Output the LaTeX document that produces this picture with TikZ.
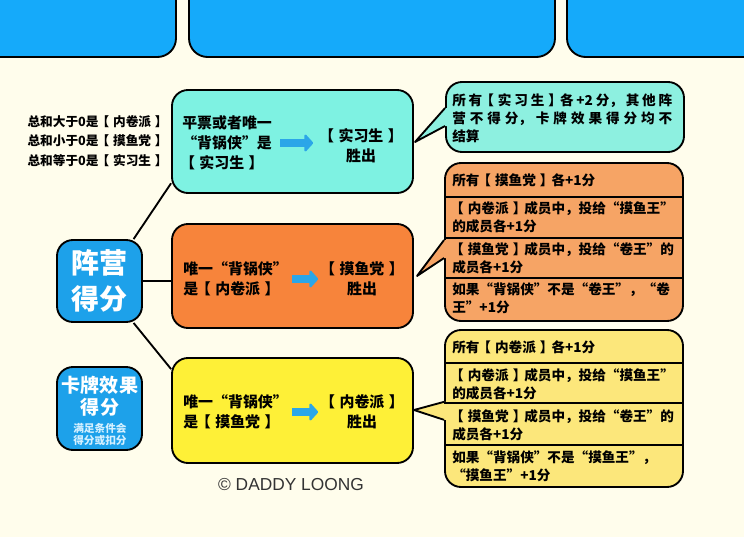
\documentclass[tikz,border=0pt]{standalone}
\usepackage{fontspec}
\setmainfont{Noto Sans CJK SC}
\newfontfamily\logofont{Liberation Sans}
\usepackage{xcolor}
\usepackage{tikz}
\usetikzlibrary{positioning}
\usetikzlibrary{arrows.meta}
\XeTeXlinebreaklocale "zh"
\XeTeXlinebreakskip=0pt plus 3pt
\definecolor{hgrund}{HTML}{FFFDEC}
\definecolor{leistenblau}{HTML}{15AAFA}
\definecolor{knotenblau}{HTML}{1DA1EA}
\definecolor{pfeilblau}{HTML}{2BA6E8}
\definecolor{tuerkis}{HTML}{7EF2E2}
\definecolor{tuerkishell}{HTML}{8DF0E0}
\definecolor{orangedunkel}{HTML}{F7843B}
\definecolor{orangehell}{HTML}{F6A465}
\definecolor{gelbdunkel}{HTML}{FEF037}
\definecolor{gelbhell}{HTML}{FCE77B}
\definecolor{blassweiss}{HTML}{D4F0FF}
\newcommand{\kl}[1]{\kern-0.15em【\kern0.3em#1\kern0.3em】\kern-0.15em} % Klammern mit Luft
\tikzset{
  Linie/.style={draw=black,line width=1.4pt,line join=round}, % für Linien
  Kasten/.style={Linie,rounded corners=12pt,inner sep=0pt}, % für Kästen
  Haupt/.style={Kasten,minimum width=180.75pt,minimum height=#1},% Hauptkästen
  Blase/.style={Kasten,minimum width=178.5pt,minimum height=#1}, % Sprechblasen
  Lager/.style={Kasten,fill=knotenblau,minimum width=63.75pt,minimum height=#1},
  Leiste/.style={Linie,fill=leistenblau,rounded corners=14pt}, % Kopfleiste
  Text/.style={inner sep=0pt,font=\bfseries\fontsize{11.2pt}{15pt}\selectfont},
  Zeile/.style={inner sep=0pt,align=left,font=\bfseries\fontsize{10.2pt}{13.5pt}\selectfont},
  Pfeil/.style={draw=pfeilblau,line width=6.5pt,shorten <=#1,shorten >=#1,
    -{Triangle[round,length=7pt,width=15pt]}} % für Pfeile
}
\begin{document}
\begin{tikzpicture}[x=0.75pt,y=-0.75pt,
font=\bfseries,
>=latex % Voreinstellung für Pfeilspitzen
]
\useasboundingbox[fill=hgrund] (0,0) rectangle (744,537);

%Kopfleiste
\begin{scope}
\clip (0,0) rectangle (744,537);
\draw[Leiste] (-30,-30) rectangle (176,57);
\draw[Leiste] (189,-30) rectangle (555,57);
\draw[Leiste] (567,-30) rectangle (774,57);
\end{scope}

%Knoten links
\node[Lager=61.5pt] (camp) at (99.5,281) {};
\node[inner sep=0pt,align=center,text=white,font=\bfseries\fontsize{21pt}{27pt}\selectfont]
  (campT) at (camp) {阵营\\得分};
\node[Lager=62.25pt] (card) at (99.5,408.5) {};
\node[inner sep=0pt,align=center,text=white,font=\bfseries\fontsize{14.3pt}{16.5pt}\selectfont]
  (cardT) at (100,396) {卡牌效果\\得分};
\node[inner sep=0pt,align=center,text=blassweiss,font=\bfseries\fontsize{8pt}{9pt}\selectfont]
  (cardS) at (100,434) {满足条件会\\得分或扣分};
\node[inner sep=0pt,align=right,font=\bfseries\fontsize{9.5pt}{14.6pt}\selectfont,anchor=east]
  (rules) at (166,141) {总和大于0是\kl{内卷派}\\总和小于0是\kl{摸鱼党}\\总和等于0是\kl{实习生}};

%Hauptkästen
\node[Haupt=77.25pt,fill=tuerkis] (cyanbox) at (292.5,141.5) {};
\node[Haupt=78pt,fill=orangedunkel] (orangebox) at (292.5,276) {};
\node[Haupt=78.75pt,fill=gelbdunkel] (yellowbox) at (292.5,410.5) {};

\node[Text,align=left,anchor=west] (cyanL) at (182,143) {平票或者唯一\\“背锅侠”是\\\kl{实习生}};
\node[Text,align=center] (cyanR) at (361,146) {\kl{实习生}\\胜出};
\node[Text,align=left,anchor=west] (orangeL) at (183,279) {唯一“背锅侠”\\是\kl{内卷派}};
\node[Text,align=center] (orangeR) at (362,279) {\kl{摸鱼党}\\胜出};
\node[Text,align=left,anchor=west] (yellowL) at (183,412) {唯一“背锅侠”\\是\kl{摸鱼党}};
\node[Text,align=center] (yellowR) at (362,412) {\kl{内卷派}\\胜出};

\draw[Pfeil=6pt] (cyanL.east) -- (cyanL.east -| cyanR.west);
\draw[Pfeil=3pt] (orangeL.east) -- (orangeL.east -| orangeR.west);
\draw[Pfeil=3pt] (yellowL.east) -- (yellowL.east -| yellowR.west);

%Verbindungen
\draw[Linie] ([xshift=-7pt]camp.north east) -- ([yshift=8pt]cyanbox.south west);
\draw[Linie] (camp.east) -- (camp.east -| orangebox.west);
\draw[Linie] ([xshift=-7pt]camp.south east) -- ([yshift=-9pt]yellowbox.north west);

%Sprechblasen
\node[Blase=52.5pt,fill=tuerkishell] (cyancall) at (565,117) {};
\node[Blase=118.5pt,fill=orangehell] (orangecall) at (564,242) {};
\node[Blase=117.75pt,fill=gelbhell] (yellowcall) at (564,408.5) {};

\coordinate (cyantip) at (415,142);
\coordinate (orangetip) at (417,276);
\coordinate (yellowtip) at (414,410);

\fill[tuerkishell] ([yshift=6.75pt]cyancall.west) -- ([shift={(3pt,6.75pt)}]cyancall.west)
  -- ([shift={(3pt,-6.75pt)}]cyancall.west) -- ([yshift=-6.75pt]cyancall.west) -- (cyantip) -- cycle;
\draw[Linie] ([yshift=6.75pt]cyancall.west) -- (cyantip) -- ([yshift=-6.75pt]cyancall.west);

\fill[orangehell] ([yshift=1.5pt]orangecall.west) -- ([shift={(3pt,1.5pt)}]orangecall.west)
  -- ([shift={(3pt,-12pt)}]orangecall.west) -- ([yshift=-12pt]orangecall.west) -- (orangetip) -- cycle;
\draw[Linie] ([yshift=1.5pt]orangecall.west) -- (orangetip) -- ([yshift=-12pt]orangecall.west);

\fill[gelbhell] ([yshift=5pt]yellowcall.west) -- ([shift={(3pt,5pt)}]yellowcall.west)
  -- ([shift={(3pt,-8.5pt)}]yellowcall.west) -- ([yshift=-8.5pt]yellowcall.west) -- (yellowtip) -- cycle;
\draw[Linie] ([yshift=5pt]yellowcall.west) -- (yellowtip) -- ([yshift=-8.5pt]yellowcall.west);

\node[Zeile,align=justify,text width=165pt,anchor=west] (c1) at (452,118)
  {所有\kl{实习生}各+2分，其他阵\linebreak 营不得分，卡牌效果得分均不\linebreak 结算};

\node[Zeile,anchor=west] (o1) at (452,180) {所有\kl{摸鱼党}各+1分};
\node[Zeile,anchor=west] (o2) at (452,217) {\kl{内卷派}成员中，投给“摸鱼王”\\的成员各+1分};
\node[Zeile,anchor=west] (o3) at (452,258) {\kl{摸鱼党}成员中，投给“卷王”的\\成员各+1分};
\node[Zeile,anchor=west] (o4) at (452,298) {如果“背锅侠”不是“卷王”，“卷\\王”+1分};
\foreach \y in {197,238,278}
  \draw[Linie] (orangecall.west |- 0,\y) -- (orangecall.east |- 0,\y);

\node[Zeile,anchor=west] (y1) at (452,347) {所有\kl{内卷派}各+1分};
\node[Zeile,anchor=west] (y2) at (452,384) {\kl{内卷派}成员中，投给“摸鱼王”\\的成员各+1分};
\node[Zeile,anchor=west] (y3) at (452,425) {\kl{摸鱼党}成员中，投给“卷王”的\\成员各+1分};
\node[Zeile,anchor=west] (y4) at (452,466) {如果“背锅侠”不是“摸鱼王”，\\“摸鱼王”+1分};
\foreach \y in {363,403,445}
  \draw[Linie] (yellowcall.west |- 0,\y) -- (yellowcall.east |- 0,\y);

%Logo
\node[text=black!80,font=\logofont\mdseries\fontsize{13pt}{15pt}\selectfont] (logo) at (291,485) {© DADDY LOONG};

\end{tikzpicture}
\end{document}
